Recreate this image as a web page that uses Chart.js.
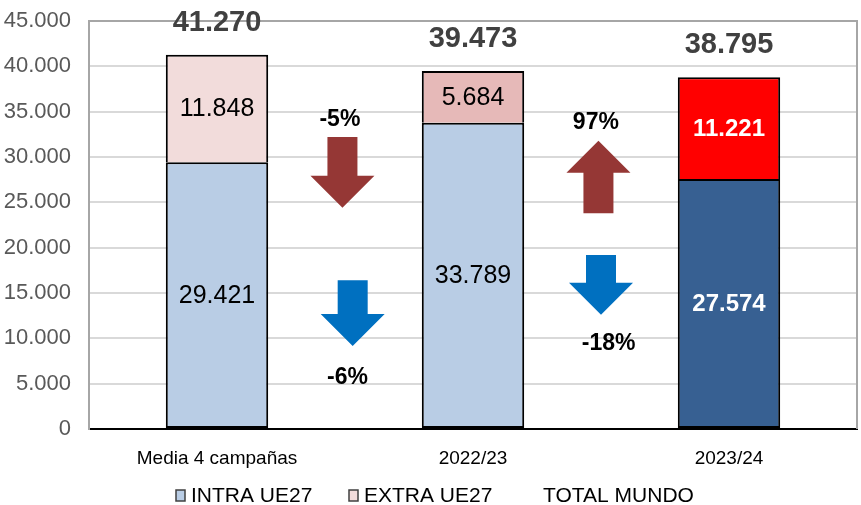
<!DOCTYPE html>
<html>
<head>
<meta charset="utf-8">
<script src="https://cdn.jsdelivr.net/npm/chart.js@4/dist/chart.umd.min.js"></script>
<style>
  html, body { margin: 0; padding: 0; background: #fff; }
  #wrap { width: 861px; height: 505px; position: relative; }
</style>
</head>
<body>
<div id="wrap"><canvas id="chart"></canvas></div>
<script>
// Data
const categories = ['Media 4 campañas', '2022/23', '2023/24'];
const intraUE = [29421, 33789, 27574];
const extraUE = [11848, 5684, 11221];
const totalMundo = [41270, 39473, 38795];
const seriesNames = ['INTRA UE27', 'EXTRA UE27', 'TOTAL MUNDO'];
const yTicks = [0, 5000, 10000, 15000, 20000, 25000, 30000, 35000, 40000, 45000];

// Change arrows between bars (position in category units, values on the y axis)
const changeText = ['-5%', '-6%', '97%', '-18%'];
const changeAt = [0.49, 0.53, 1.49, 1.5];
const changeFrom = [32200, 16400, 23800, 19200];
const changeTo = [24400, 9150, 31800, 12600];
const changeTextAt = [[0.48, 34100], [0.51, 5700], [1.48, 33750], [1.53, 9400]];

const FONT = '"Liberation Sans", Arial, sans-serif';
const intraColors = ['#B9CDE5', '#B9CDE5', '#376092'];
const extraColors = ['#F2DCDB', '#E6B9B8', '#FF0000'];
const arrowColors = ['#953735', '#0070C0', '#953735', '#0070C0'];

function fmt(v) {
    return v.toString().replace(/\B(?=(\d{3})+(?!\d))/g, '.');
}

const overlay = {
    id: 'overlay',
    afterDatasetsDraw(chart) {
        const ctx = chart.ctx;
        const xs = chart.scales.x;
        const ys = chart.scales.y;
        const area = chart.chartArea;
        const step = xs.getPixelForValue(1) - xs.getPixelForValue(0);
        const xAt = f => xs.getPixelForValue(0) + f * step;

        ctx.save();
        // plot frame (top + right)
        ctx.strokeStyle = '#A6A6A6';
        ctx.lineWidth = 2;
        ctx.beginPath();
        ctx.moveTo(area.left, area.top);
        ctx.lineTo(area.right, area.top);
        ctx.lineTo(area.right, area.bottom);
        ctx.stroke();

        // segment labels
        ctx.textAlign = 'center';
        ctx.textBaseline = 'middle';
        [0, 1].forEach(d => {
            const meta = chart.getDatasetMeta(d);
            const vals = chart.data.datasets[d].data;
            meta.data.forEach((bar, i) => {
                const dark = i === 2;
                ctx.fillStyle = dark ? '#fff' : '#000';
                ctx.font = (dark ? 'bold ' : '') + (dark ? '24px ' : '25px ') + FONT;
                ctx.fillText(fmt(vals[i]), bar.x, (bar.y + bar.base) / 2 + 1);
            });
        });

        // totals
        ctx.fillStyle = '#404040';
        ctx.font = 'bold 29px ' + FONT;
        totalMundo.forEach((t, i) => {
            ctx.fillText(fmt(t), xs.getPixelForValue(i), ys.getPixelForValue(t) - 32);
        });

        // arrows
        const shaftW = 30, headW = 64, headL = 32;
        changeAt.forEach((f, i) => {
            const cx = xAt(f);
            const y0 = ys.getPixelForValue(changeFrom[i]);
            const y1 = ys.getPixelForValue(changeTo[i]);
            const dir = y1 > y0 ? 1 : -1;
            const yh = y1 - dir * headL;
            ctx.fillStyle = arrowColors[i];
            ctx.beginPath();
            ctx.moveTo(cx - shaftW / 2, y0);
            ctx.lineTo(cx + shaftW / 2, y0);
            ctx.lineTo(cx + shaftW / 2, yh);
            ctx.lineTo(cx + headW / 2, yh);
            ctx.lineTo(cx, y1);
            ctx.lineTo(cx - headW / 2, yh);
            ctx.lineTo(cx - shaftW / 2, yh);
            ctx.closePath();
            ctx.fill();
        });

        // change labels
        ctx.fillStyle = '#000';
        ctx.font = 'bold 23px ' + FONT;
        changeText.forEach((t, i) => {
            ctx.fillText(t, xAt(changeTextAt[i][0]), ys.getPixelForValue(changeTextAt[i][1]));
        });

        // legend
        ctx.font = '21px ' + FONT;
        ctx.textAlign = 'left';
        const ly = 495;
        const boxes = [[176, intraColors[0]], [349, extraColors[0]]];
        boxes.forEach((b, i) => {
            ctx.fillStyle = b[1];
            ctx.fillRect(b[0], ly - 5, 9, 11);
            ctx.strokeStyle = '#404040';
            ctx.lineWidth = 1.5;
            ctx.strokeRect(b[0], ly - 5, 9, 11);
            ctx.fillStyle = '#000';
            ctx.fillText(seriesNames[i], b[0] + 15, ly + 1);
        });
        ctx.fillText(seriesNames[2], 543, ly + 1);
        ctx.restore();
    }
};

new Chart(document.getElementById('chart'), {
    type: 'bar',
    data: {
        labels: categories,
        datasets: [
            {
                label: seriesNames[0],
                data: intraUE,
                backgroundColor: intraColors,
                borderColor: '#000',
                borderWidth: 2,
                borderSkipped: false
            },
            {
                label: seriesNames[1],
                data: extraUE,
                backgroundColor: extraColors,
                borderColor: '#000',
                borderWidth: { top: 2, left: 2, right: 2, bottom: 0 },
                borderSkipped: false
            }
        ]
    },
    options: {
        responsive: true,
        maintainAspectRatio: false,
        animation: false,
        layout: { padding: { top: 21, right: 4, left: 0, bottom: 0 } },
        datasets: { bar: { categoryPercentage: 1, barPercentage: 0.4 } },
        plugins: {
            legend: { display: false },
            tooltip: { enabled: false }
        },
        scales: {
            x: {
                stacked: true,
                grid: { display: false },
                border: { color: '#000', width: 2 },
                ticks: { color: '#000', font: { family: FONT, size: 19 }, padding: 10 },
                afterFit: s => { s.height = 76; }
            },
            y: {
                stacked: true,
                min: 0,
                max: 45000,
                afterBuildTicks: s => { s.ticks = yTicks.map(v => ({ value: v })); },
                grid: { color: '#D9D9D9', lineWidth: 2, drawTicks: false },
                border: { color: '#A6A6A6', width: 2 },
                ticks: {
                    color: '#595959',
                    font: { family: FONT, size: 22 },
                    padding: 18,
                    callback: v => fmt(v)
                },
                afterFit: s => { s.width = 89; s.paddingTop = 0; s.paddingBottom = 0; }
            }
        }
    },
    plugins: [overlay]
});
</script>
</body>
</html>
